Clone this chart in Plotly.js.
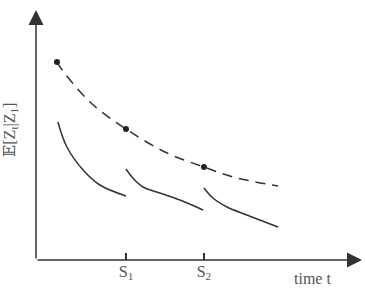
<!DOCTYPE html>
<html><head><meta charset="utf-8">
<script src="https://cdn.plot.ly/plotly-3.0.1.min.js"></script>
<style>html,body{margin:0;padding:0;background:#fff}#c{width:365px;height:288px}</style>
</head><body><div id="c"></div>
<script>
// Values (time units: S1 = 3.0, S2 = 5.6)
const tickVals = [3.0, 5.6];
const tickText = ['S<sub>1</sub>', 'S<sub>2</sub>'];
const seg1X = [0.73, 1.03, 1.57, 2.13, 3.0];
const seg1Y = [5.52, 4.52, 3.6, 3.0, 2.56];
const seg2X = [3.0, 3.23, 3.57, 4.13, 4.8, 5.57];
const seg2Y = [3.64, 3.28, 2.92, 2.68, 2.4, 2.0];
const seg3X = [5.6, 5.9, 6.37, 7.03, 8.07];
const seg3Y = [2.88, 2.48, 2.12, 1.8, 1.32];
const meanX = [0.7, 0.8, 1.8, 3.0, 4.37, 5.6, 6.57, 8.07];
const meanY = [7.92, 7.72, 6.32, 5.24, 4.28, 3.72, 3.32, 2.96];
const dotX = [0.7, 3.0, 5.6];
const dotY = [7.92, 5.24, 3.72];
const xMax = 10.87, yMax = 10;

const ink = '#333';
const solid = {color: ink, width: 1.5, shape: 'spline'};
const traces = [
  {x: meanX, y: meanY, mode: 'lines', line: {color: ink, width: 1.5, dash: '10px,7px', shape: 'spline'}},
  {x: seg1X, y: seg1Y, mode: 'lines', line: solid},
  {x: seg2X, y: seg2Y, mode: 'lines', line: solid},
  {x: seg3X, y: seg3Y, mode: 'lines', line: solid},
  {x: dotX, y: dotY, mode: 'markers', marker: {color: '#222', size: 6}}
];
const serif = 'Liberation Serif, DejaVu Serif, serif';
const layout = {
  width: 365, height: 288,
  margin: {l: 36, r: 3, t: 10, b: 28},
  showlegend: false,
  paper_bgcolor: '#fff', plot_bgcolor: '#fff',
  xaxis: {range: [0, xMax], showgrid: false, zeroline: false, showline: false,
    tickvals: tickVals, ticktext: tickText, ticks: 'inside', ticklen: 7, tickwidth: 1.5, tickcolor: ink,
    tickfont: {family: serif, size: 16, color: '#555'}, fixedrange: true},
  yaxis: {range: [0, yMax], showgrid: false, zeroline: false, showline: false,
    showticklabels: false, ticks: '', fixedrange: true},
  annotations: [
    {x: xMax, y: 0, ax: 0, ay: 0, axref: 'x', ayref: 'y', xref: 'x', yref: 'y', text: '',
     showarrow: true, arrowhead: 2, arrowsize: 2, arrowwidth: 1.5, arrowcolor: ink},
    {x: 0, y: yMax, ax: 0, ay: 0, axref: 'x', ayref: 'y', xref: 'x', yref: 'y', text: '',
     showarrow: true, arrowhead: 2, arrowsize: 2, arrowwidth: 1.5, arrowcolor: ink},
    {xref: 'paper', yref: 'paper', x: 0.847, y: 0, yshift: -18, xanchor: 'center', yanchor: 'middle',
     text: 'time t', showarrow: false, font: {family: serif, size: 16, color: '#555'}},
    {xref: 'paper', yref: 'paper', x: -0.08, y: 0.52, xanchor: 'center', yanchor: 'middle',
     text: '𝔼[Z<sub>t</sub>|Z<sub>1</sub>]', textangle: -90, showarrow: false,
     font: {family: serif, size: 16, color: '#555'}}
  ]
};
Plotly.newPlot('c', traces, layout, {displayModeBar: false, staticPlot: true});
</script></body></html>
